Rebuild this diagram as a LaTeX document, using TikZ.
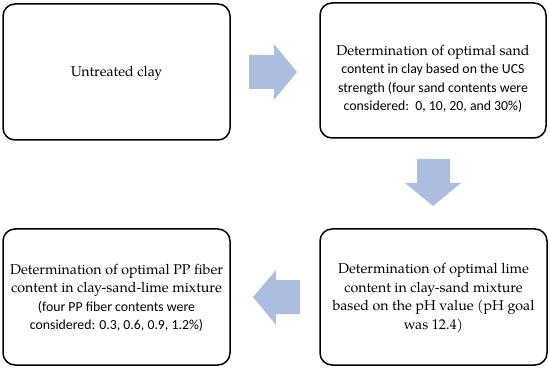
\documentclass[tikz,border=0pt]{standalone}
\usepackage{fontspec}
\setmainfont{TeX Gyre Pagella}
\newfontfamily\calfont{Carlito}
\definecolor{arrowblue}{RGB}{172,189,224}
\newcommand{\sansline}[1]{{\calfont\fontsize{13.8}{18.5}\selectfont #1}}
\begin{document}
\begin{tikzpicture}[x=1pt,y=-1pt,
  box/.style={draw=black,line width=1.5pt,rounded corners=12pt},
  txt/.style={align=center,font=\fontsize{14.2}{18.5}\selectfont,inner sep=0pt},
  fatarrow/.style={fill=arrowblue,draw=none}]
\useasboundingbox (0,0) rectangle (550,369);
\draw[box] (3,4) rectangle (230,140);
\draw[box] (320,3) rectangle (546,138);
\draw[box] (3,229) rectangle (230,365);
\draw[box] (320,229) rectangle (547,365);
\node[txt] (t1) at (116.5,73) {Untreated clay};
\node[txt] (t2) at (433,79) {Determination of optimal sand\\ \sansline{content in clay based on the UCS}\\ \sansline{strength (four sand contents were}\\ \sansline{considered:\ \ 0, 10, 20, and 30\%)}};
\node[txt] (t3) at (116.5,298) {Determination of optimal PP fiber\\ content in clay-sand-lime mixture\\ \sansline{(four PP fiber contents were}\\ \sansline{considered: 0.3, 0.6, 0.9, 1.2\%)}};
\node[txt] (t4) at (433.5,298) {Determination of optimal lime\\ content in clay-sand mixture\\ based on the pH value (pH goal\\ was 12.4)};
\fill[fatarrow] (249,55) -- (274,55) -- (274,44) -- (297,72) -- (274,100) -- (274,89) -- (249,89) -- cycle;
\fill[fatarrow] (417,159) -- (450,159) -- (450,183) -- (461,183) -- (433,206) -- (405,183) -- (417,183) -- cycle;
\fill[fatarrow] (300,280) -- (276,280) -- (276,270) -- (253,297) -- (276,325) -- (276,314) -- (300,314) -- cycle;
\end{tikzpicture}
\end{document}
